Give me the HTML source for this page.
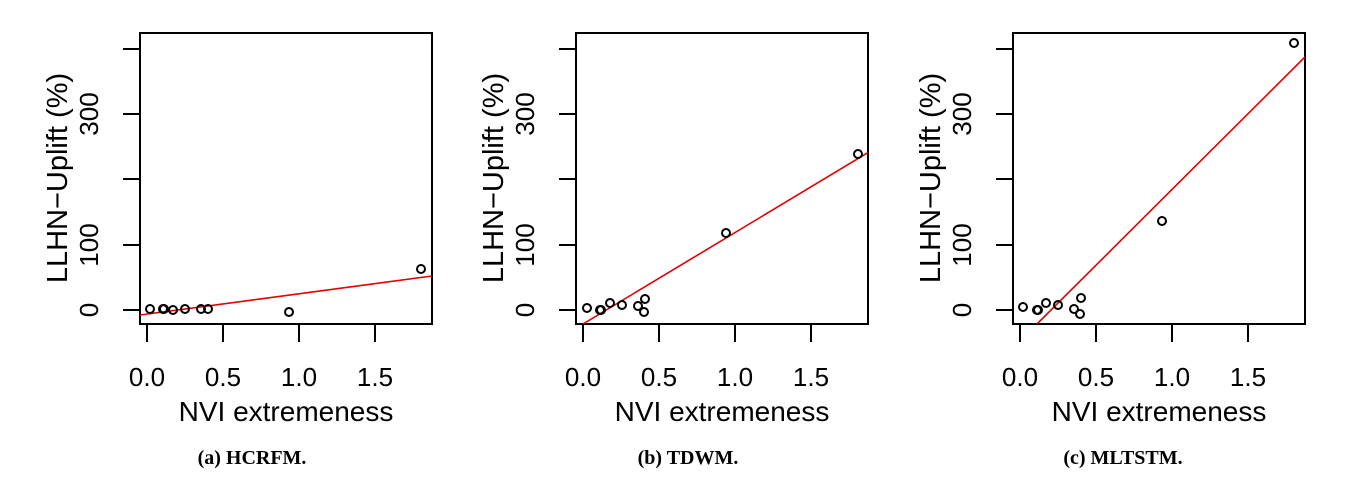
<!DOCTYPE html>
<html><head><meta charset="utf-8"><style>
html,body{margin:0;padding:0;background:#fff;}
svg{display:block;}
text{font-family:"Liberation Sans",sans-serif;fill:#000;}
.cap{font-family:"Liberation Serif",serif;font-weight:bold;font-size:20px;}
</style></head><body>
<svg width="1345" height="486" viewBox="0 0 1345 486" xmlns="http://www.w3.org/2000/svg">
<defs>
<clipPath id="bx"><rect x="0" y="33" width="292" height="291"/></clipPath>
<g id="axes">
<rect x="0" y="33" width="292" height="291" fill="none" stroke="#000" stroke-width="2"/>
<g stroke="#000" stroke-width="2">
<line x1="-17" y1="310" x2="0" y2="310"/><line x1="-17" y1="245" x2="0" y2="245"/>
<line x1="-17" y1="179" x2="0" y2="179"/><line x1="-17" y1="114" x2="0" y2="114"/>
<line x1="-17" y1="49" x2="0" y2="49"/>
<line x1="7" y1="324" x2="7" y2="342"/><line x1="83" y1="324" x2="83" y2="342"/>
<line x1="159" y1="324" x2="159" y2="342"/><line x1="235" y1="324" x2="235" y2="342"/>
</g>
<g font-size="26" text-anchor="middle">
<text transform="translate(-42,310) rotate(-90)">0</text>
<text transform="translate(-42,245) rotate(-90)">100</text>
<text transform="translate(-42,114) rotate(-90)">300</text>
<text x="7" y="386">0.0</text><text x="83" y="386">0.5</text>
<text x="159" y="386">1.0</text><text x="235" y="386">1.5</text>
<text x="146" y="421" font-size="28">NVI extremeness</text>
<text transform="translate(-73,178) rotate(-90)" font-size="29">LLHN−Uplift (%)</text>
</g>
</g>
</defs>

<g transform="translate(140,0)">
<use href="#axes"/>
<g clip-path="url(#bx)"><line x1="0" y1="315" x2="292" y2="276" stroke="#e00000" stroke-width="1.6"/></g>
<g fill="none" stroke="#000" stroke-width="2">
<circle cx="10" cy="309" r="4"/><circle cx="23" cy="309" r="4"/><circle cx="24" cy="309" r="4"/>
<circle cx="33" cy="310" r="4"/><circle cx="45" cy="309" r="4"/><circle cx="61" cy="309" r="4"/>
<circle cx="68" cy="309" r="4"/><circle cx="149" cy="312" r="4"/><circle cx="281" cy="269" r="4"/>
</g>
<text class="cap" x="112" y="464" text-anchor="middle">(a) HCRFM.</text>
</g>

<g transform="translate(576,0)">
<use href="#axes"/>
<g clip-path="url(#bx)"><line x1="7" y1="324" x2="293" y2="152" stroke="#e00000" stroke-width="1.6"/></g>
<g fill="none" stroke="#000" stroke-width="2">
<circle cx="11" cy="308" r="4"/><circle cx="24" cy="310" r="4"/><circle cx="25" cy="310" r="4"/>
<circle cx="34" cy="303" r="4"/><circle cx="46" cy="305" r="4"/><circle cx="62" cy="306" r="4"/>
<circle cx="69" cy="299" r="4"/><circle cx="68" cy="312" r="4"/><circle cx="150" cy="233" r="4"/>
<circle cx="282" cy="154" r="4"/>
</g>
<text class="cap" x="112" y="464" text-anchor="middle">(b) TDWM.</text>
</g>

<g transform="translate(1013,0)">
<use href="#axes"/>
<g clip-path="url(#bx)"><line x1="24" y1="324" x2="292" y2="57" stroke="#e00000" stroke-width="1.6"/></g>
<g fill="none" stroke="#000" stroke-width="2">
<circle cx="10" cy="307" r="4"/><circle cx="24" cy="310" r="4"/><circle cx="25" cy="310" r="4"/>
<circle cx="33" cy="303" r="4"/><circle cx="45" cy="305" r="4"/><circle cx="61" cy="309" r="4"/>
<circle cx="68" cy="298" r="4"/><circle cx="67" cy="314" r="4"/><circle cx="149" cy="221" r="4"/>
<circle cx="281" cy="43" r="4"/>
</g>
<text class="cap" x="110" y="464" text-anchor="middle">(c) MLTSTM.</text>
</g>
</svg>
</body></html>
